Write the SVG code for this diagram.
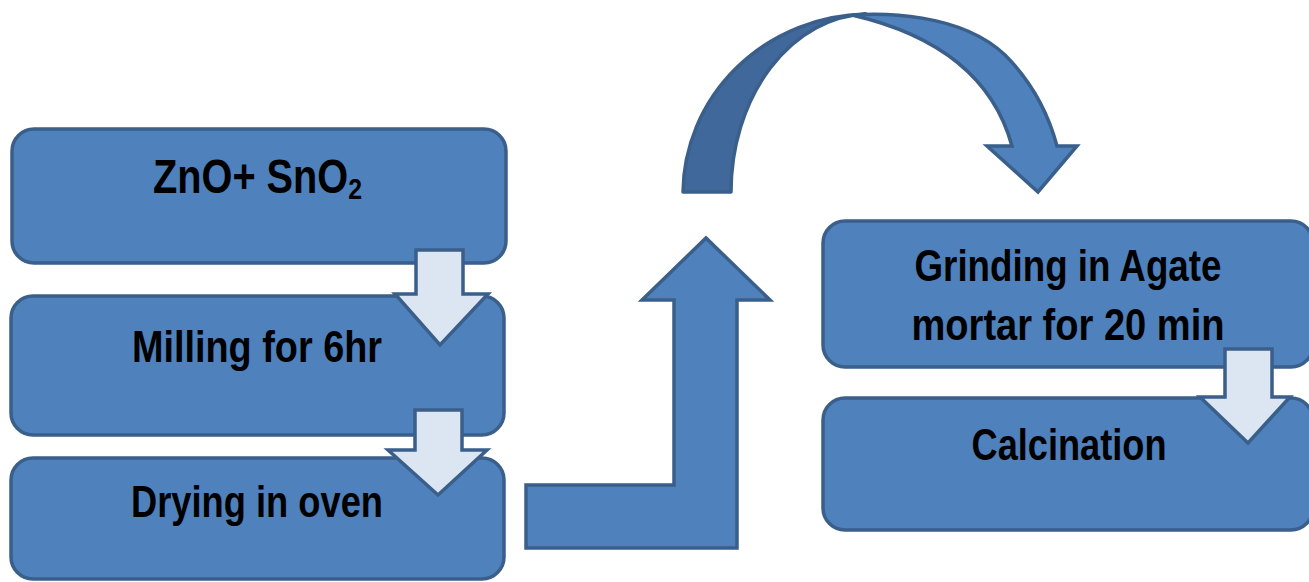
<svg xmlns="http://www.w3.org/2000/svg" width="1309" height="582" viewBox="0 0 1309 582">
<style>
.box{fill:#4f81bd;stroke:#3a5f8b;stroke-width:3.5}
.down{fill:#dce6f2;stroke:#3a5f8b;stroke-width:3.5;stroke-linejoin:miter}
.big{fill:#4f81bd;stroke:#3a5f8b;stroke-width:3.5;stroke-linejoin:miter}
.dark{fill:#41689a;stroke:#3a5f8b;stroke-width:3.5;stroke-linejoin:round}
.lbl{font-family:"Liberation Sans Narrow","Liberation Sans",Arial,sans-serif;font-weight:bold;fill:#000;text-anchor:middle}
.st{text-anchor:start}
</style>
<rect width="1309" height="582" fill="#fff"/>
<g id="n1"><rect class="box" x="12" y="129" width="494" height="134" rx="22"/>
<text class="lbl st" x="153" y="193" font-size="48" textLength="209" lengthAdjust="spacingAndGlyphs">ZnO+ SnO<tspan font-size="30" dy="6">2</tspan></text></g>
<g id="n2"><rect class="box" x="11" y="296" width="493" height="139" rx="22"/>
<text class="lbl" x="257" y="362" font-size="44" textLength="250" lengthAdjust="spacingAndGlyphs">Milling for 6hr</text></g>
<g id="n3"><rect class="box" x="11" y="458" width="493" height="121" rx="22"/>
<text class="lbl" x="257" y="517" font-size="44" textLength="252" lengthAdjust="spacingAndGlyphs">Drying in oven</text></g>
<g id="n4"><rect class="box" x="823" y="221" width="490" height="146" rx="22"/>
<text class="lbl" x="1068" y="281" font-size="45" textLength="307" lengthAdjust="spacingAndGlyphs">Grinding in Agate</text>
<text class="lbl" x="1068" y="340" font-size="45" textLength="313" lengthAdjust="spacingAndGlyphs">mortar for 20 min</text></g>
<g id="n5"><rect class="box" x="823" y="398" width="490" height="132" rx="22"/>
<text class="lbl" x="1069" y="460" font-size="45" textLength="195" lengthAdjust="spacingAndGlyphs">Calcination</text></g>
<g id="connectors">
<path class="down" d="M416,250 H463 V294 H488 L440,345 L395,294 H416 Z"/>
<path class="down" d="M415,410 H462 V450 H487 L438,495 L388,450 H415 Z"/>
<path class="down" d="M1225,349 H1272 V397 H1290 L1248,443 L1200,397 H1225 Z"/>
<path class="big" d="M526,485 H674 V300 H642 L706,238 L770,300 H737 V548 H526 Z"/>
<path class="dark" d="M683,192 A187,180 0 0 1 866,14 A139,178 0 0 0 731,192 Z"/>
<path class="big" d="M852,15 C880,13 960,12 1005,55 C1035,85 1050,120 1057,146 H1077 L1038,192 L987,146 H1012 C998,95 960,40 852,15 Z" stroke-linejoin="round"/>
</g>
</svg>
